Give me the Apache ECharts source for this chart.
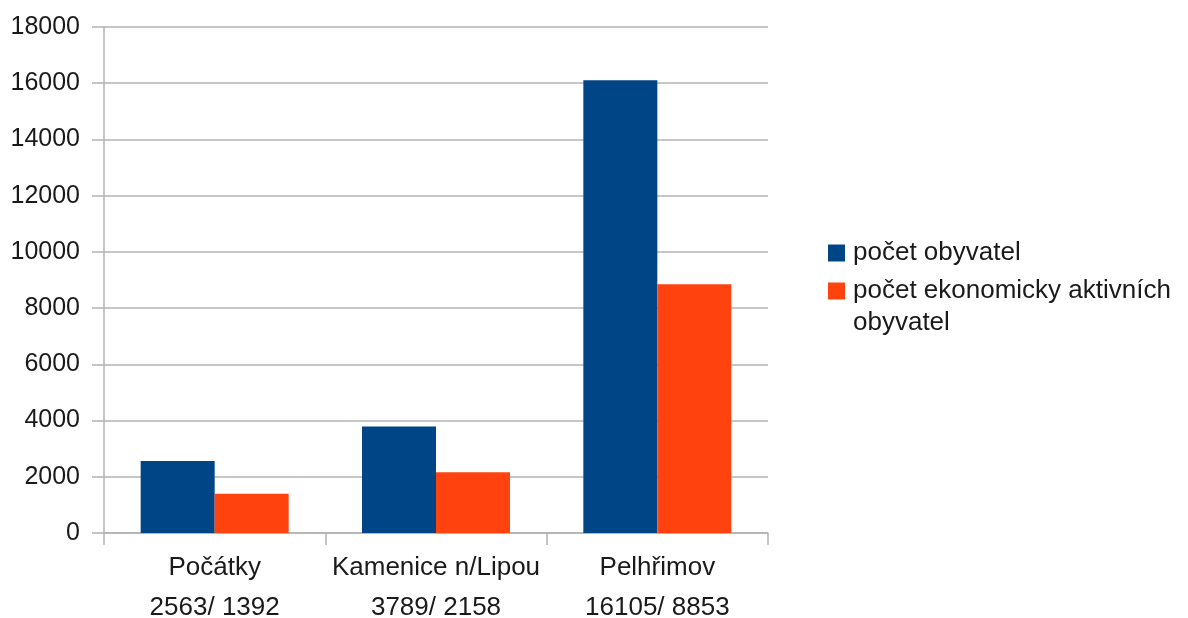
<!DOCTYPE html>
<html>
<head>
<meta charset="utf-8">
<script src="https://cdn.jsdelivr.net/npm/echarts@6/dist/echarts.min.js"></script>
<style>
html,body{margin:0;padding:0;background:#fff;}
#chart{width:1188px;height:618px;}
</style>
</head>
<body>
<div id="chart"></div>
<script>
// data
var towns = ['Počátky', 'Kamenice n/Lipou', 'Pelhřimov'];
var population = [2563, 3789, 16105];
var activePopulation = [1392, 2158, 8853];
var seriesNames = ['počet obyvatel', 'počet ekonomicky aktivních\nobyvatel'];
var yTicks = { min: 0, max: 18000, interval: 2000 };

var categoryLabels = [];
for (var i = 0; i < towns.length; i++) {
	categoryLabels.push(towns[i] + '\n' + population[i] + '/ ' + activePopulation[i]);
}

var chart = echarts.init(document.getElementById('chart'));
var font = "'Liberation Sans', Arial, sans-serif";
var gridColor = '#b3b3b3';
var textColor = '#1a1a1a';

chart.setOption({
	animation: false,
	color: ['#004586', '#ff420e'],
	grid: { left: 104, right: 420, top: 27, bottom: 85, containLabel: false, outerBoundsMode: 'none' },
	legend: {
		orient: 'vertical',
		left: 828,
		top: 237,
		padding: 0,
		icon: 'rect',
		itemWidth: 17,
		itemHeight: 17,
		itemGap: -26,
		textStyle: { fontFamily: font, fontSize: 26, color: textColor, lineHeight: 32, padding: [0, 0, 0, 3] },
		// multi-line names get a blank line on top so the first line sits next to the icon
		formatter: function (name) {
			if (name.indexOf('\n') < 0) return name;
			return ' \n' + name;
		}
	},
	xAxis: {
		type: 'category',
		data: categoryLabels,
		axisLine: { show: true, lineStyle: { color: gridColor, width: 1.5 } },
		axisTick: { show: true, length: 12, lineStyle: { color: gridColor, width: 1.5 } },
		axisLabel: { interval: 0, fontFamily: font, fontSize: 26, color: textColor, lineHeight: 40, margin: 15 },
		splitLine: { show: false }
	},
	yAxis: {
		type: 'value',
		min: yTicks.min,
		max: yTicks.max,
		interval: yTicks.interval,
		axisLine: { show: true, lineStyle: { color: gridColor, width: 1.5 } },
		axisTick: { show: true, length: 12, lineStyle: { color: gridColor, width: 1.5 } },
		axisLabel: {
			fontFamily: font, fontSize: 25, color: textColor, margin: 24,
			formatter: function (v) { return String(v); }
		},
		splitLine: { show: true, lineStyle: { color: gridColor, width: 1.5 } }
	},
	series: [
		{ name: seriesNames[0], type: 'bar', data: population, barWidth: 74, barGap: '0%' },
		{ name: seriesNames[1], type: 'bar', data: activePopulation, barWidth: 74, barGap: '0%' }
	]
});
</script>
</body>
</html>
